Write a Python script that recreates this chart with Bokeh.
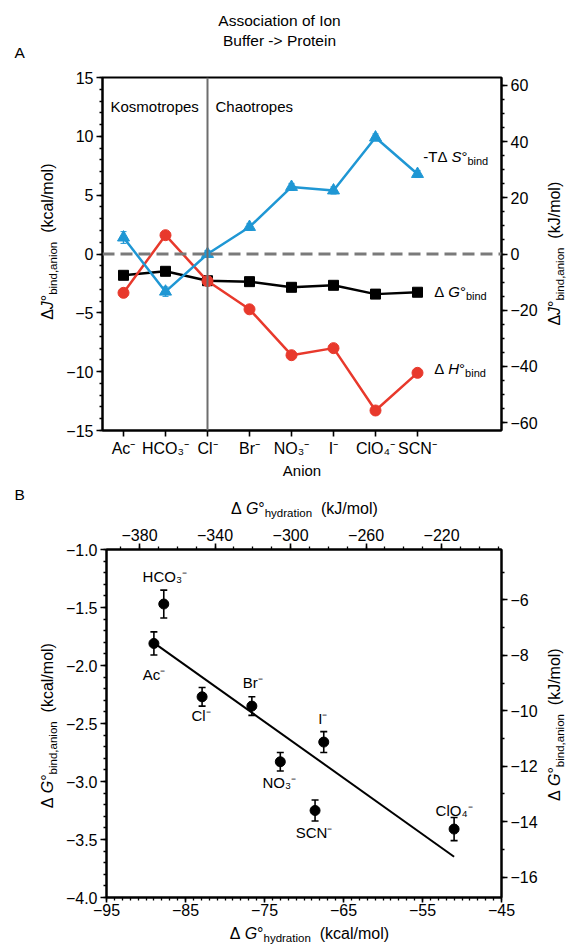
import math
import numpy as np
from bokeh.plotting import figure
from bokeh.models import (Range1d, LinearAxis, FixedTicker, SingleIntervalTicker,
                          CustomJSTickFormatter, Label, Span, Whisker, ColumnDataSource)
from bokeh.layouts import column, row
from bokeh.embed import file_html
from bokeh.resources import INLINE
from bokeh.core.properties import value

# ---------------- data ----------------
KJ_PER_KCAL = 4.184
anions = ["Ac⁻", "HCO₃⁻", "Cl⁻", "Br⁻", "NO₃⁻", "I⁻", "ClO₄⁻", "SCN⁻"]
dG_bind = [-1.81, -1.47, -2.27, -2.35, -2.83, -2.66, -3.41, -3.25]      # kcal/mol
dH_bind = [-3.3, 1.6, -2.3, -4.7, -8.6, -8.0, -13.3, -10.1]             # kcal/mol
mTdS_bind = [1.4, -3.2, 0.0, 2.3, 5.7, 5.4, 9.9, 6.8]                  # kcal/mol
mTdS_err = [0.5, 0.4, 0.3, 0.3, 0.3, 0.3, 0.3, 0.3]
dG_hydration = [-89.0, -87.75, -82.9, -76.6, -73.0, -67.5, -51.0, -68.6]  # kcal/mol
dG_bind_err = [0.10, 0.12, 0.08, 0.08, 0.08, 0.09, 0.10, 0.09]
region_names = ["Kosmotropes", "Chaotropes"]
divider_anion = 2  # Cl-

A_left_tick_step = 5
A_right_tick_step = 20
B_bottom_ticks = [-95, -85, -75, -65, -55, -45]
B_bottom_minor = list(range(-95, -44, 1))
B_top_ticks = [-380, -340, -300, -260, -220]
B_top_minor = list(range(-390, -189, 10))

# ---------------- style ----------------
FONT = "Liberation Sans"
RED = "#e8392c"
BLUE = "#1f97d4"
FS = 15
TICK_FS = 16
SUB = 11

W = {' ': 278, '(': 333, ')': 333, '/': 278, ',': 278, '.': 278, '-': 333, '>': 584,
     '°': 400, 'Δ': 640,
     'a': 556, 'b': 556, 'c': 500, 'd': 556, 'e': 556, 'f': 278, 'g': 556, 'h': 556,
     'i': 222, 'j': 222, 'k': 500, 'l': 222, 'm': 833, 'n': 556, 'o': 556, 'p': 556,
     'q': 556, 'r': 333, 's': 500, 't': 278, 'u': 556, 'v': 500, 'w': 722, 'x': 500,
     'y': 500, 'z': 500,
     'A': 667, 'B': 667, 'C': 722, 'G': 778, 'H': 722, 'I': 278, 'J': 500, 'K': 667,
     'P': 667, 'S': 667, 'T': 611}


def tw(s, size):
    return sum(W.get(ch, 556) for ch in s) / 1000.0 * size


def rich(p, x, y, pieces, angle=0.0, align="left", size=FS, sub_size=SUB, drop=4,
         units="screen"):
    """Compose text from pieces (text, style): 'n' normal, 'i' italic, 's' subscript.
    (x, y) is the baseline point; every piece is anchored at its own centre."""
    widths = [tw(t, sub_size if st == "s" else size) for t, st in pieces]
    total = sum(widths)
    adv = {"left": 0.0, "center": -total / 2.0, "right": -total}[align]
    ca, sa = math.cos(angle), math.sin(angle)
    for (t, st), w in zip(pieces, widths):
        sz = sub_size if st == "s" else size
        d = drop if st == "s" else 0
        lead = len(t) - len(t.lstrip(" "))
        txt = t.strip(" ")
        along = adv + tw(" " * lead, sz) + tw(txt, sz) / 2.0
        up = 0.3 * sz - d
        p.add_layout(Label(x=x + along * ca - up * sa, y=y + along * sa + up * ca,
                           x_units=units, y_units=units, text=txt, angle=angle,
                           text_font=FONT, text_font_size=f"{sz}px",
                           text_font_style="italic" if st == "i" else "normal",
                           text_align="center", text_baseline="middle",
                           text_color="black"))
        adv += w


def text_fig(w, h, frame_h=None):
    # in a row, the strip's frame is aligned to the neighbouring plot's frame,
    # so its y range spans that frame's pixel height
    fh = h if frame_h is None else frame_h
    f = figure(width=w, height=h, x_range=Range1d(0, w), y_range=Range1d(0, fh),
               output_backend="svg", toolbar_location=None, min_border=0,
               x_axis_location=None, y_axis_location=None)
    f.outline_line_color = None
    f.grid.visible = False
    return f


def fmt(decimals):
    return CustomJSTickFormatter(code=f"""
        const s = Math.abs(tick).toFixed({decimals});
        return tick < -1e-9 ? '\\u2212' + s : s;""")


def style_axis(ax, size=TICK_FS):
    ax.axis_line_width = 2
    ax.axis_line_color = "black"
    ax.major_tick_in = 0
    ax.major_tick_out = 6
    ax.minor_tick_in = 0
    ax.minor_tick_out = 3
    ax.major_tick_line_width = 1.6
    ax.minor_tick_line_width = 1.3
    ax.major_label_text_font = FONT
    ax.major_label_text_font_size = f"{size}px"
    ax.major_label_text_color = "black"
    ax.major_label_standoff = 3


idx = list(range(len(anions)))

# ---------------- panel A ----------------
pA = figure(width=478, height=411, x_range=Range1d(-0.5, 9.0), y_range=Range1d(-15, 15),
            output_backend="svg", toolbar_location=None,
            min_border_left=40, min_border_right=38, min_border_top=6, min_border_bottom=52)
pA.extra_y_ranges = {"kj": Range1d(-15 * KJ_PER_KCAL, 15 * KJ_PER_KCAL)}
pA.xgrid.visible = False
pA.ygrid.visible = False
pA.outline_line_color = "black"
pA.outline_line_width = 2
pA.outline_line_alpha = 1

xa = pA.xaxis[0]
xa.ticker = FixedTicker(ticks=idx)
xa.major_label_overrides = {i: a for i, a in zip(idx, anions)}
style_axis(xa)
xa.axis_label = "Anion"
xa.axis_label_text_font = FONT
xa.axis_label_text_font_size = f"{FS}px"
xa.axis_label_text_font_style = "normal"
xa.axis_label_text_color = "black"
xa.axis_label_standoff = 2

ya = pA.yaxis[0]
ya.ticker = SingleIntervalTicker(interval=A_left_tick_step, num_minor_ticks=5)
ya.formatter = fmt(0)
style_axis(ya)

ra = LinearAxis(y_range_name="kj",
                ticker=SingleIntervalTicker(interval=A_right_tick_step, num_minor_ticks=4),
                formatter=fmt(0))
style_axis(ra)
pA.add_layout(ra, "right")

pA.add_layout(Span(location=divider_anion, dimension="height", line_color="#6e6e6e", line_width=2))
pA.add_layout(Span(location=0, dimension="width", line_color="#7a7a7a", line_width=3,
                   line_dash="12 6"))

pA.line(idx, dG_bind, line_color="black", line_width=2.5)
pA.scatter(idx, dG_bind, marker="square", size=10, color="black")
pA.line(idx, dH_bind, line_color=RED, line_width=2.5)
pA.scatter(idx, dH_bind, marker="circle", size=11, color=RED)
srcT = ColumnDataSource(dict(x=idx, lo=[v - e for v, e in zip(mTdS_bind, mTdS_err)],
                             hi=[v + e for v, e in zip(mTdS_bind, mTdS_err)]))
wT = Whisker(source=srcT, base="x", lower="lo", upper="hi", dimension="height",
             line_color=BLUE, line_width=1.5)
wT.upper_head.size = 6
wT.lower_head.size = 6
wT.upper_head.line_color = BLUE
wT.lower_head.line_color = BLUE
pA.add_layout(wT)
pA.line(idx, mTdS_bind, line_color=BLUE, line_width=2.5)
pA.scatter(idx, mTdS_bind, marker="triangle", size=12, color=BLUE)

rich(pA, 8, 320, [(region_names[0], "n")])
rich(pA, 113, 320, [(region_names[1], "n")])
rich(pA, 321, 270, [("-TΔ ", "n"), ("S", "i"), ("°", "n"), ("bind", "s")])
rich(pA, 332, 135, [("Δ ", "n"), ("G", "i"), ("°", "n"), ("bind", "s")])
rich(pA, 332, 58, [("Δ ", "n"), ("H", "i"), ("°", "n"), ("bind", "s")])

topA = text_fig(568, 71)
rich(topA, 279, 46, [("Association of Ion", "n")], align="center", size=15.5, units="data")
rich(topA, 279, 26, [("Buffer -> Protein", "n")], align="center", size=15.5, units="data")
rich(topA, 14, 14, [("A", "n")], size=15.5, units="data")

leftA = text_fig(62, 411, frame_h=353)
rich(leftA, 52, 189, [("Δ", "n"), ("J", "i"), ("°", "n"), ("bind,anion", "s"), ("  (kcal/mol)", "n")],
     angle=math.pi / 2, align="center", size=16, sub_size=11.5, units="data")
rightA = text_fig(28, 411, frame_h=353)
rich(rightA, 19, 177, [("Δ", "n"), ("J", "i"), ("°", "n"), ("bind,anion", "s"), ("  (kJ/mol)", "n")],
     angle=math.pi / 2, align="center", size=16, sub_size=11.5, units="data")

# ---------------- panel B ----------------
pB = figure(width=478, height=401, x_range=Range1d(-95, -45), y_range=Range1d(-4, -1),
            output_backend="svg", toolbar_location=None,
            min_border_left=41, min_border_right=37, min_border_top=28, min_border_bottom=25)
pB.extra_x_ranges = {"kj": Range1d(-95 * KJ_PER_KCAL, -45 * KJ_PER_KCAL)}
pB.extra_y_ranges = {"kj": Range1d(-4 * KJ_PER_KCAL, -1 * KJ_PER_KCAL)}
pB.xgrid.visible = False
pB.ygrid.visible = False
pB.outline_line_color = "black"
pB.outline_line_width = 2

xb = pB.xaxis[0]
xb.ticker = FixedTicker(ticks=B_bottom_ticks, minor_ticks=B_bottom_minor)
xb.formatter = fmt(0)
style_axis(xb)
xb.major_tick_out = 5
xb.major_label_standoff = 1
yb = pB.yaxis[0]
yb.ticker = SingleIntervalTicker(interval=0.5, num_minor_ticks=5)
yb.formatter = fmt(1)
style_axis(yb)
tb = LinearAxis(x_range_name="kj", ticker=FixedTicker(ticks=B_top_ticks, minor_ticks=B_top_minor),
                formatter=fmt(0))
style_axis(tb)
pB.add_layout(tb, "above")
rb = LinearAxis(y_range_name="kj", ticker=SingleIntervalTicker(interval=2, num_minor_ticks=2),
                formatter=fmt(0))
style_axis(rb)
pB.add_layout(rb, "right")

slope, icpt = np.polyfit(dG_hydration, dG_bind, 1)
xfit = [min(dG_hydration), max(dG_hydration)]
pB.line(xfit, [slope * v + icpt for v in xfit], line_color="black", line_width=2)

srcB = ColumnDataSource(dict(x=dG_hydration, y=dG_bind,
                             lo=[v - e for v, e in zip(dG_bind, dG_bind_err)],
                             hi=[v + e for v, e in zip(dG_bind, dG_bind_err)],
                             name=anions,
                             dx=[0, 1, -1, 1, -1, -1, 0, -1],
                             dy=[31, -28, 19, -24, 21, -24, -19, 22]))
wB = Whisker(source=srcB, base="x", lower="lo", upper="hi", dimension="height",
             line_color="black", line_width=1.6)
wB.upper_head.size = 7
wB.lower_head.size = 7
wB.upper_head.line_width = 1.6
wB.lower_head.line_width = 1.6
pB.add_layout(wB)
pB.scatter("x", "y", source=srcB, marker="circle", size=10, color="black")
pB.text("x", "y", text="name", source=srcB, x_offset="dx", y_offset="dy",
        text_font=value(FONT), text_font_size=f"{FS}px", text_align="center",
        text_baseline="middle", text_color="black")

topB = text_fig(568, 39)
rich(topB, 14, 22, [("B", "n")], size=15.5, units="data")
rich(topB, 304, 8, [("Δ ", "n"), ("G", "i"), ("°", "n"), ("hydration", "s"), ("  (kJ/mol)", "n")],
     align="center", size=16, sub_size=11.5, drop=3, units="data")

leftB = text_fig(62, 401, frame_h=348)
rich(leftB, 52, 172, [("Δ ", "n"), ("G", "i"), ("°", "n"), ("bind,anion", "s"), ("  (kcal/mol)", "n")],
     angle=math.pi / 2, align="center", size=16, sub_size=11.5, units="data")
rightB = text_fig(28, 401, frame_h=348)
rich(rightB, 19, 173, [("Δ ", "n"), ("G", "i"), ("°", "n"), ("bind,anion", "s"), ("  (kJ/mol)", "n")],
     angle=math.pi / 2, align="center", size=16, sub_size=11.5, units="data")

bottomB = text_fig(568, 24)
rich(bottomB, 309, 8, [("Δ ", "n"), ("G", "i"), ("°", "n"), ("hydration", "s"), ("  (kcal/mol)", "n")],
     align="center", size=16, sub_size=11.5, drop=3, units="data")

layout = column(topA, row(leftA, pA, rightA), topB, row(leftB, pB, rightB), bottomB)
open("out.html", "w").write(file_html(layout, INLINE))
